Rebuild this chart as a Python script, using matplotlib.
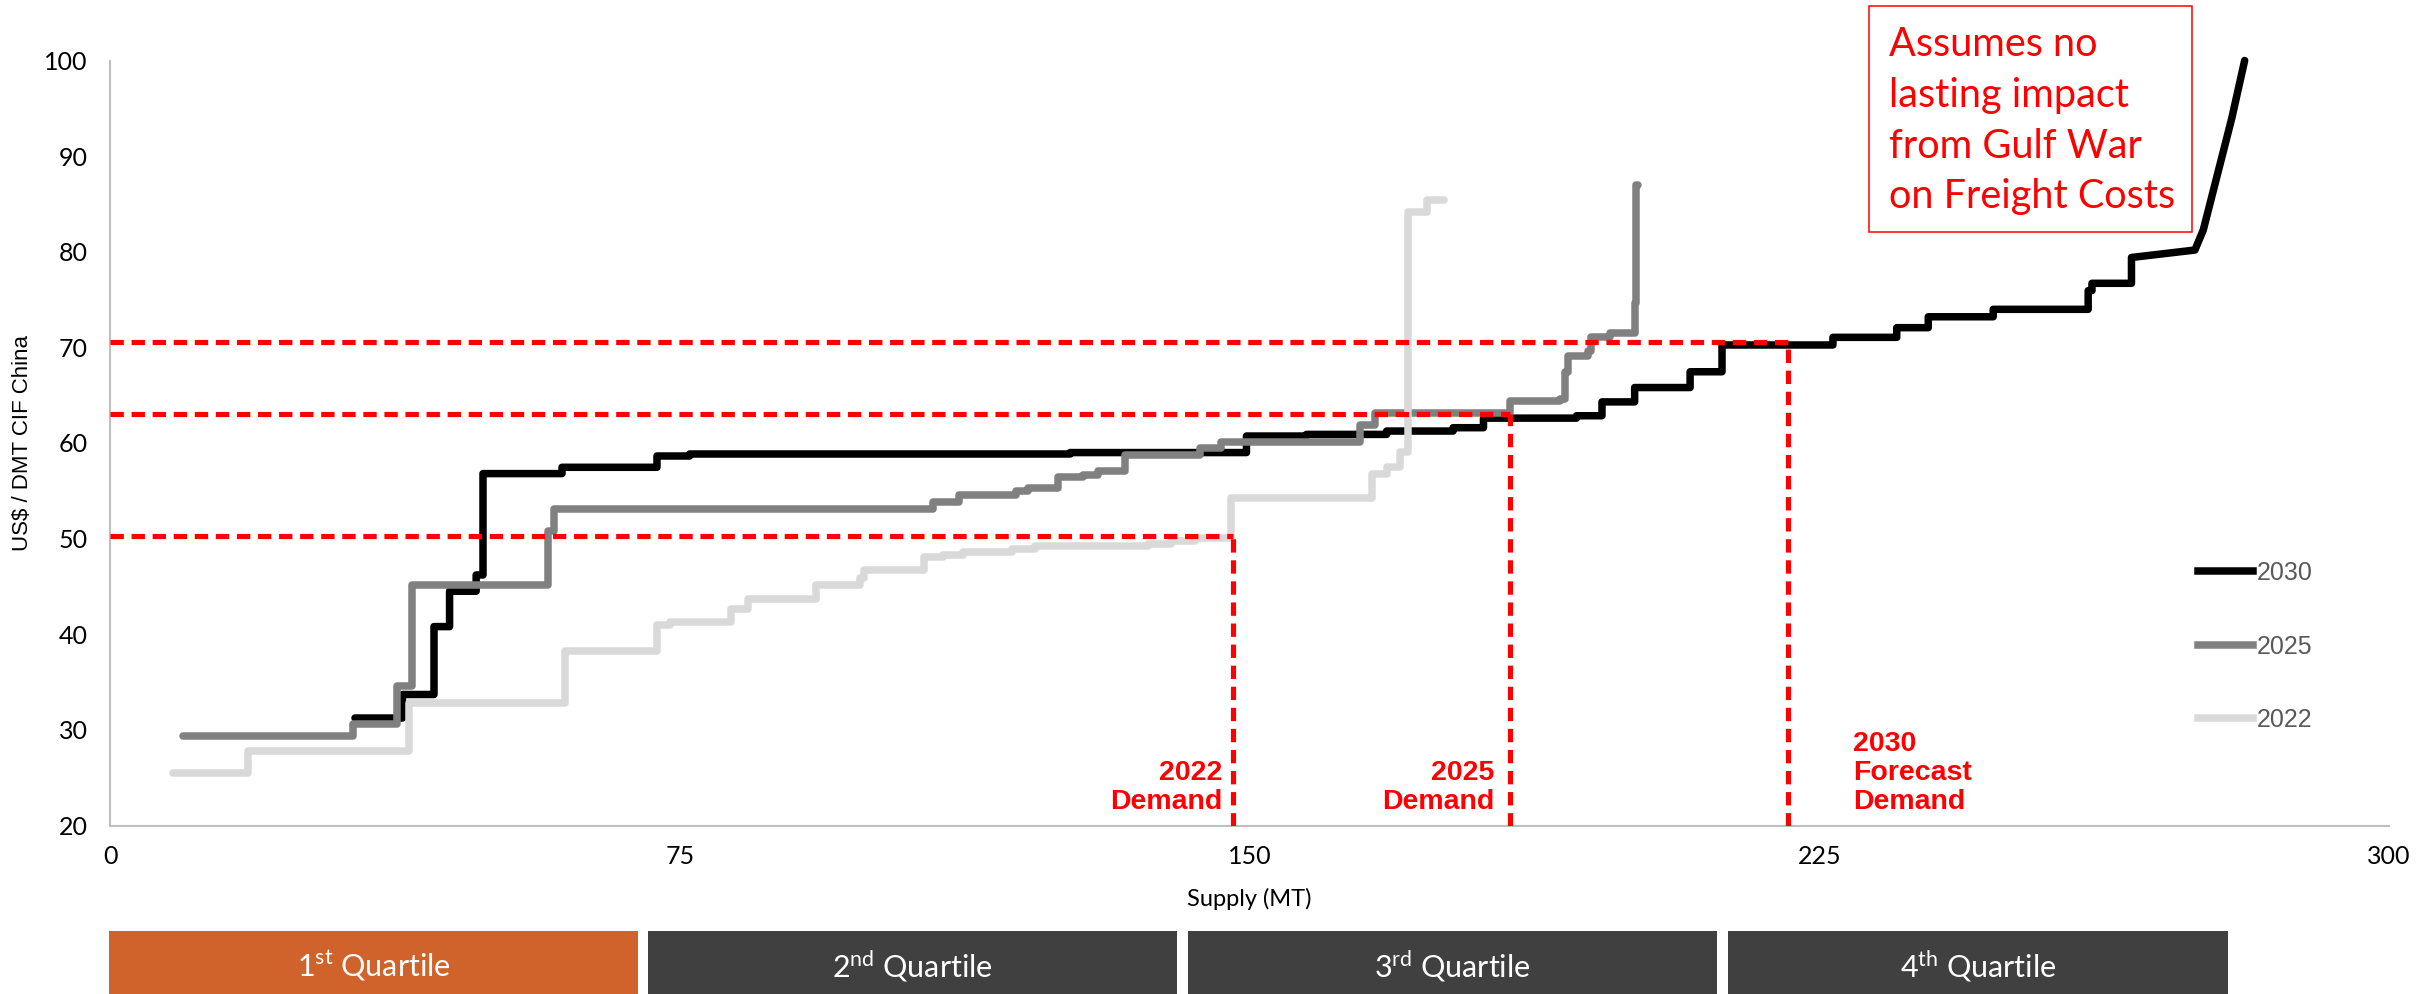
from __future__ import annotations

import matplotlib as mpl

mpl.use("Agg")
import matplotlib.pyplot as plt
from matplotlib.lines import Line2D
from matplotlib.patches import Rectangle


# --- data ------------------------------------------------------------------
# each curve: supply (MT) where a cost step starts, and the cost of that step;
# the last entry closes the curve.
SUPPLY_2030 = [32.25, 38.5, 42.65, 44.7, 48.2, 49.1, 59.5, 72.0, 76.3, 126.4,
               149.6, 157.5, 168.05, 176.8, 180.8, 193.05, 196.4, 200.7, 208.0,
               212.2, 226.8, 235.2, 239.35, 247.9, 260.4, 260.9, 266.1]
COST_2030 = [31.24, 33.7, 40.8, 44.5, 46.2, 56.8, 57.46, 58.64, 58.85, 59.0,
             60.73, 60.9, 61.25, 61.6, 62.6, 62.85, 64.3, 65.8, 67.45,
             70.25, 71.05, 72.06, 73.2, 73.98, 75.93, 76.7, 79.4]
# top end of the 2030 curve is joined with straight segments
TAIL_SUPPLY_2030 = [266.1, 274.45, 275.55, 279.3, 281.0]
TAIL_COST_2030 = [79.4, 80.18, 82.27, 93.95, 100.0]

SUPPLY_2025 = [9.65, 32.0, 37.8, 39.8, 57.7, 58.4, 108.4, 111.7, 119.3, 120.9,
               124.8, 128.1, 130.1, 133.6, 143.5, 146.3, 164.5, 166.5, 184.3,
               190.9, 191.5, 191.9, 194.6, 195.0, 197.4, 200.7, 200.9, 201.2]
COST_2025 = [29.4, 30.6, 34.6, 45.15, 50.8, 53.05, 53.86, 54.56, 55.0, 55.3,
             56.4, 56.65, 57.1, 58.75, 59.44, 60.14, 61.9, 63.1, 64.4,
             64.55, 67.45, 69.1, 69.6, 71.1, 71.47, 74.6, 87.0, 87.0]

SUPPLY_2022 = [8.3, 18.2, 39.3, 59.9, 72.0, 73.7, 81.8, 84.0, 93.0, 98.7, 99.3,
               107.1, 109.7, 112.3, 118.7, 121.8, 136.7, 139.7, 142.8, 147.6,
               166.1, 168.05, 169.8, 170.8, 173.4, 175.6]
COST_2022 = [25.5, 27.8, 32.8, 38.3, 41.0, 41.3, 42.6, 43.65, 45.1, 45.9, 46.7,
             48.05, 48.3, 48.6, 48.9, 49.2, 49.4, 49.8, 50.1, 54.2,
             56.8, 57.5, 59.1, 84.2, 85.4, 85.4]

DEMAND_LABELS = ["2022\nDemand", "2025\nDemand", "2030\nForecast\nDemand"]
DEMAND_SUPPLY = [147.8, 184.3, 220.9]
DEMAND_PRICE = [50.3, 63.05, 70.6]

QUARTILE_LABELS = [
  r"1$^{\mathregular{st}}$ Quartile",
  r"2$^{\mathregular{nd}}$ Quartile",
  r"3$^{\mathregular{rd}}$ Quartile",
  r"4$^{\mathregular{th}}$ Quartile",
]

X_TICKS = [0, 75, 150, 225, 300]
Y_TICKS = [20, 30, 40, 50, 60, 70, 80, 90, 100]

NOTE_LINES = ["Assumes no", "lasting impact", "from Gulf War", "on Freight Costs"]


# --- layout (pixels of the 2435 x 994 canvas) --------------------------------
FIG_W, FIG_H, DPI = 2435, 994, 100
AX_LEFT, AX_RIGHT, AX_TOP, AX_BOTTOM = 110, 2389, 60.5, 825.5
RED = "#FF0000"
CURVE_LW = 5.4


def fx(px: float) -> float:
  return px / FIG_W


def fy(py: float) -> float:
  return 1 - py / FIG_H


def step_vertices(supply: list[float], cost: list[float]):
  """Turn step starts into polyline vertices (horizontal then vertical)."""
  xs, ys = [supply[0]], [cost[0]]
  for x, prev, cur in zip(supply[1:], cost[:-1], cost[1:]):
    xs += [x, x]
    ys += [prev, cur]
  return xs, ys


plt.rcParams.update({
  "font.family": "Lato",
  "axes.linewidth": 1.5,
})

fig = plt.figure(figsize=(FIG_W / DPI, FIG_H / DPI), dpi=DPI)
ax = fig.add_axes([
  fx(AX_LEFT), fy(AX_BOTTOM),
  fx(AX_RIGHT) - fx(AX_LEFT), fy(AX_TOP) - fy(AX_BOTTOM),
])

# curves: 2030 at the bottom, 2022 on top (series order)
x30, y30 = step_vertices(SUPPLY_2030, COST_2030)
x30 += TAIL_SUPPLY_2030[1:]
y30 += TAIL_COST_2030[1:]
x25, y25 = step_vertices(SUPPLY_2025, COST_2025)
x22, y22 = step_vertices(SUPPLY_2022, COST_2022)

curves = [
  ("2030", x30, y30, "#000000", 2),
  ("2025", x25, y25, "#808080", 3),
  ("2022", x22, y22, "#D9D9D9", 4),
]
for label, xs, ys, color, z in curves:
  ax.plot(xs, ys, color=color, lw=CURVE_LW, solid_capstyle="round",
          solid_joinstyle="round", zorder=z, label=label, clip_on=False)

# demand guides
dash = (0, (2.6, 1.5))
ax.hlines(DEMAND_PRICE, 0, DEMAND_SUPPLY, colors=RED, lw=3.7,
          linestyles=[dash], zorder=6)
ax.vlines(DEMAND_SUPPLY, Y_TICKS[0], DEMAND_PRICE, colors=RED, lw=3.7,
          linestyles=[dash], zorder=6)

label_offsets = [-1.4, -2.0, 8.5]
label_align = ["right", "right", "left"]
for text, x, dx, ha in zip(DEMAND_LABELS, DEMAND_SUPPLY, label_offsets,
                           label_align):
  ax.text(x + dx, 21.1, text, ha=ha, va="bottom", multialignment=ha,
          color=RED, fontsize=20.5, fontweight="bold",
          family="Liberation Sans", linespacing=1.15, zorder=7)

ax.set_xlim(X_TICKS[0], X_TICKS[-1])
ax.set_ylim(Y_TICKS[0], Y_TICKS[-1])
ax.set_xticks(X_TICKS)
ax.set_yticks(Y_TICKS)
ax.tick_params(axis="both", length=0, labelsize=18, colors="#000000")
ax.tick_params(axis="y", pad=16)
ax.tick_params(axis="x", pad=14)
for side in ("top", "right"):
  ax.spines[side].set_visible(False)
for side in ("left", "bottom"):
  ax.spines[side].set_color("#BFBFBF")

ax.set_xlabel("Supply (MT)", fontsize=17)
ax.xaxis.set_label_coords(0.5, -(888 - AX_BOTTOM) / (AX_BOTTOM - AX_TOP))
ax.set_ylabel("US$ / DMT CIF China", fontsize=16, family="Liberation Sans")
ax.yaxis.set_label_coords(-(AX_LEFT - 33) / (AX_RIGHT - AX_LEFT), 0.5)

# legend, 2030 first
handles = [Line2D([], [], color=c, lw=CURVE_LW) for _, _, _, c, _ in curves]
fig.legend(
  handles, [c[0] for c in curves],
  loc="upper left", bbox_to_anchor=(fx(2198), fy(561)),
  frameon=False, handlelength=2.2, handletextpad=0.15, labelspacing=1.98,
  borderpad=0, borderaxespad=0,
  prop={"family": "Liberation Sans", "size": 18}, labelcolor="#595959",
)

# note box
fig.patches.append(Rectangle(
  (fx(1868.5), fy(232.3)), fx(2192.3) - fx(1868.5), fy(6.4) - fy(232.3),
  transform=fig.transFigure, fill=False, edgecolor=RED, lw=1.1,
))
for i, line in enumerate(NOTE_LINES):
  fig.text(fx(1888.5), fy(55.9 + 50.8 * i), line, color=RED, fontsize=28.5,
           ha="left", va="baseline")

# quartile band under the axis
quartile_edges = [(108.7, 638), (647.5, 1177), (1188, 1717), (1728, 2228)]
quartile_colors = ["#D0622B", "#404040", "#404040", "#404040"]
for (x0, x1), color, text in zip(quartile_edges, quartile_colors,
                                 QUARTILE_LABELS):
  fig.patches.append(Rectangle(
    (fx(x0), 0), fx(x1) - fx(x0), fy(931),
    transform=fig.transFigure, facecolor=color, edgecolor="none",
  ))
  fig.text(fx((x0 + x1) / 2), fy(966), text, color="white", fontsize=22,
           ha="center", va="center")

fig.savefig("out.png", dpi=DPI)
